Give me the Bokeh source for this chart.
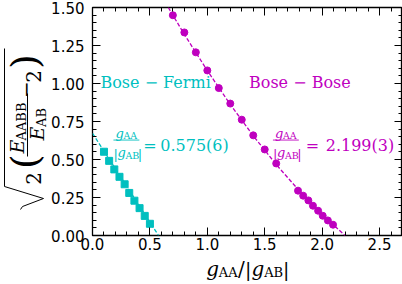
import numpy as np
from bokeh.plotting import figure
from bokeh.layouts import row, column
from bokeh.models import LinearAxis, SingleIntervalTicker, PrintfTickFormatter, Range1d
from bokeh.core.properties import value
from bokeh.embed import file_html
from bokeh.resources import INLINE

# ---------------- data ----------------
bb_x = [0.70, 0.80, 0.90, 1.00, 1.10, 1.20, 1.30, 1.40, 1.50, 1.60,
        1.79, 1.835, 1.88, 1.92, 1.965, 2.005, 2.05, 2.095]
bb_y = [1.449, 1.336, 1.205, 1.086, 0.970, 0.868, 0.762, 0.659, 0.566, 0.474,
        0.295, 0.262, 0.231, 0.196, 0.163, 0.130, 0.099, 0.071]
bf_x = [0.10, 0.145, 0.19, 0.235, 0.28, 0.32, 0.365, 0.41, 0.455, 0.50]
bf_y = [0.551, 0.491, 0.435, 0.386, 0.337, 0.280, 0.229, 0.180, 0.129, 0.077]
bb_fit_x = [0.66, 0.80, 1.00, 1.20, 1.40, 1.60, 1.80, 2.00, 2.199]
bb_fit_y = [1.500, 1.323, 1.085, 0.862, 0.656, 0.467, 0.295, 0.139, 0.0]
bf_fit_x = [0.0, 0.575]
bf_fit_y = [0.672, 0.0]
bf_name = "Bose − Fermi"
bb_name = "Bose − Bose"
bf_value = "0.575(6)"
bb_value = "2.199(3)"

MAG = "#bf00bf"
CYA = "#00bfbf"
SERIF = "DejaVu Serif"

YW = 48          # width of the y-label strip
MH = 254         # height of the main figure
W, H = 402, 284

def bare(fig):
    fig.grid.visible = False
    fig.outline_line_color = None
    fig.background_fill_color = "white"
    fig.border_fill_color = "white"
    return fig

# ---------------- main plot ----------------
xr = Range1d(0, 2.7)
p = figure(width=W - YW, height=MH, output_backend="svg", toolbar_location=None,
           x_range=xr, y_range=Range1d(0, 1.5),
           min_border_left=89 - YW, min_border_right=0, min_border_top=7,
           min_border_bottom=MH - 235)
p.grid.visible = False
p.outline_line_color = "black"
p.outline_line_width = 1.3
p.border_fill_color = "white"

xt = SingleIntervalTicker(interval=0.5, num_minor_ticks=5)
yt = SingleIntervalTicker(interval=0.25, num_minor_ticks=5)

def style(ax, labels=True):
    ax.major_tick_in = 8
    ax.major_tick_out = 0
    ax.minor_tick_in = 4
    ax.minor_tick_out = 0
    ax.major_tick_line_width = 1
    ax.minor_tick_line_width = 1
    ax.axis_line_color = None
    if labels:
        ax.major_label_text_font = "DejaVu Sans"
        ax.major_label_text_font_size = "15px"
        ax.major_label_text_color = "black"
    else:
        ax.major_label_text_font_size = "0px"
        ax.major_label_text_color = None
        ax.major_label_standoff = 0

p.xaxis.ticker = xt
p.yaxis.ticker = yt
p.xaxis.formatter = PrintfTickFormatter(format="%.1f")
p.yaxis.formatter = PrintfTickFormatter(format="%.2f")
style(p.xaxis[0]); style(p.yaxis[0])
p.xaxis.major_label_standoff = 2
p.yaxis.major_label_standoff = 8

top = LinearAxis(ticker=xt); style(top, False); p.add_layout(top, "above")
right = LinearAxis(ticker=yt); style(right, False); p.add_layout(right, "right")

p.line(bf_fit_x, bf_fit_y, line_color=CYA, line_width=1.3, line_dash="4 2")
p.line(bb_fit_x, bb_fit_y, line_color=MAG, line_width=1.3, line_dash="4 2")
p.scatter(bf_x, bf_y, marker="square", size=7, fill_color=CYA, line_color=CYA)
p.scatter(bb_x, bb_y, marker="circle", size=7, fill_color=MAG, line_color=MAG)

# layout positions given in reference-picture pixels
def dx(px):
    return (px - 89) / (311 / 2.7)

def dy(py):
    return (235 - py) / 151.3

def txt(fig, s, x, y, size, color="black", style_="normal", align="left",
        baseline="alphabetic", angle=0.0):
    fig.text(x=[x], y=[y], text=[s], angle=angle,
             text_font=value(SERIF), text_font_size=value(f"{size}px"),
             text_color=color, text_font_style=value(style_),
             text_align=value(align), text_baseline=value(baseline))

def mtxt(s, px, py, size, color="black", style_="normal", baseline="alphabetic"):
    txt(p, s, dx(px), dy(py), size, color, style_, "left", baseline)

mtxt(bf_name, 97, 83, 16, CYA, baseline="middle")
mtxt(bb_name, 246, 83, 16, MAG, baseline="middle")

def ratio(x0, eqx, numx, color, val):
    mtxt("g", x0 + 2, 133, 13, color, "italic")
    mtxt("AA", x0 + 10, 135.5, 9.5, color)
    p.segment(x0=[dx(x0)], y0=[dy(140)], x1=[dx(x0 + 26)], y1=[dy(140)],
              line_color=color, line_width=0.9)
    mtxt("|", x0, 154, 13, color)
    mtxt("g", x0 + 4, 152.5, 13, color, "italic")
    mtxt("AB", x0 + 12, 155, 9.5, color)
    mtxt("|", x0 + 24.5, 154, 13, color)
    mtxt("=", eqx, 145.5, 16, color)
    mtxt(val, numx, 145.5, 16, color)

ratio(110, 140, 157, CYA, bf_value)
ratio(270, 303, 323, MAG, bb_value)

# ---------------- x-axis label strip (frame aligned with the main plot) ----------------
xl = bare(figure(width=W - YW, height=H - MH, output_backend="svg", toolbar_location=None,
                 x_range=xr, y_range=Range1d(H, MH),
                 x_axis_location=None, y_axis_location=None, min_border=0))
x0 = 203
bl = 268
def xtxt(s, px, py, size, style_="normal"):
    txt(xl, s, dx(px), py, size, "black", style_)

xtxt("g", x0, bl, 20, "italic")
xtxt("AA", x0 + 12.7, bl + 3.5, 13)
xtxt("/", x0 + 32, bl, 20)
xtxt("|", x0 + 39, bl, 19)
xtxt("g", x0 + 45.5, bl, 20, "italic")
xtxt("AB", x0 + 58.2, bl + 3.5, 13)
xtxt("|", x0 + 77, bl, 19)

# ---------------- y-axis label strip ----------------
yl = bare(figure(width=YW, height=H, output_backend="svg", toolbar_location=None,
                 x_range=Range1d(0, YW), y_range=Range1d(H, 0),
                 x_axis_location=None, y_axis_location=None, min_border=0))
R = np.pi / 2
def rt(s, px, py, size, style_="normal"):
    txt(yl, s, px, py, size, "black", style_, "center", "middle", R)

rt("2", 33, 178, 20)
rt("(", 24, 161, 38)
rt("E", 16, 146, 19, "italic")
rt("AABB", 21, 121, 13)
rt("E", 36, 133, 19, "italic")
rt("AB", 41, 117, 13)
rt("−", 25, 89, 20)
rt("2", 33, 76, 20)
rt(")", 24, 61, 38)
yl.line([27, 27], [93, 156], line_color="black", line_width=1.0)
yl.line([20, 22, 43, 4, 4], [209, 206, 198, 186, 48], line_color="black", line_width=1.0)

layout = row(yl, column(p, xl))
open("out.html", "w").write(file_html(layout, INLINE))
